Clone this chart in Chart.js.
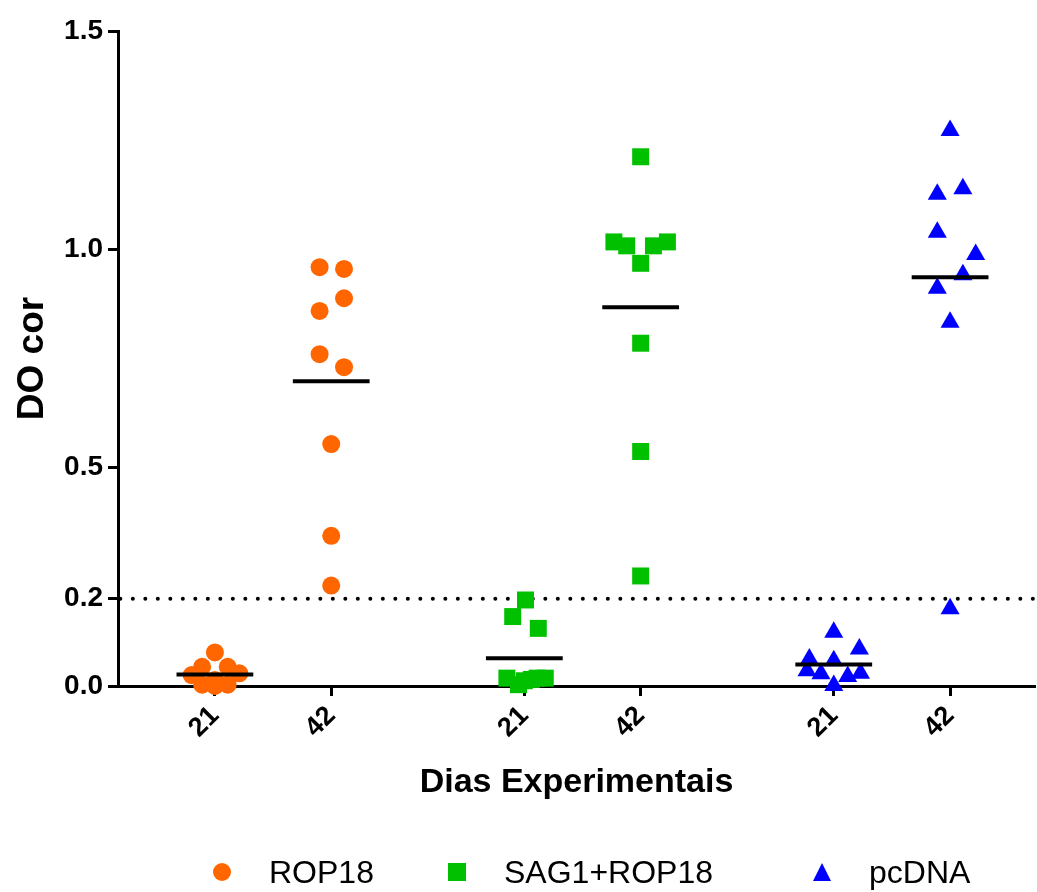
<!DOCTYPE html>
<html>
<head>
<meta charset="utf-8">
<script src="https://cdn.jsdelivr.net/npm/chart.js@4/dist/chart.umd.min.js"></script>
<style>
  body { margin: 0; background: #fff; }
  #wrap { position: relative; width: 1037px; height: 892px; }
  #legend { position: absolute; left: 0; top: 0; width: 1037px; height: 892px; pointer-events: none;
            font: 32px "Liberation Sans", Arial, sans-serif; color: #000; }
  .item { position: absolute; top: 852px; height: 40px; display: flex; align-items: center; white-space: nowrap; }
  .item svg { margin-right: 37px; }
</style>
</head>
<body>
<div id="wrap">
  <canvas id="chart" width="1037" height="892"></canvas>
  <div id="legend"></div>
</div>
<script>
const seriesNames = ['ROP18', 'SAG1+ROP18', 'pcDNA'];
const dayLabels = ['21', '42', '21', '42', '21', '42'];
const yTickValues = [0, 0.2, 0.5, 1.0, 1.5];
const cutoff = 0.2;

// DO cor per animal
const rop18Day21 = [0.077, 0.044, 0.044, 0.025, 0.029, 0.003, 0.0, 0.003, 0.014];
const rop18Day42 = [0.959, 0.955, 0.888, 0.859, 0.760, 0.730, 0.554, 0.344, 0.230];
const sagDay21 = [0.197, 0.159, 0.132, 0.018, 0.003, 0.015, 0.018, 0.018, 0.012];
const sagDay42 = [1.212, 1.017, 1.008, 1.008, 1.017, 0.968, 0.785, 0.537, 0.252];
const pcdnaDay21 = [0.123, 0.085, 0.062, 0.058, 0.035, 0.028, 0.022, 0.029, 0.001];
const pcdnaDay42 = [1.272, 1.139, 1.126, 1.039, 0.988, 0.942, 0.911, 0.833, 0.177];

// sideways scatter of the points inside a column (x units)
const rop18Day21Jitter = [0, -0.11, 0.11, -0.2, 0.21, -0.11, 0, 0.11, 0];
const rop18Day42Jitter = [-0.1, 0.11, 0.11, -0.1, -0.1, 0.11, 0, 0, 0];
const sagDay21Jitter = [0.01, -0.1, 0.12, -0.15, -0.05, 0.06, 0.11, 0.18, 0];
const sagDay42Jitter = [0, -0.23, -0.12, 0.11, 0.23, 0, 0, 0, 0];
const pcdnaDay21Jitter = [0, 0.22, -0.21, 0, -0.23, -0.11, 0.12, 0.23, 0];
const pcdnaDay42Jitter = [0, 0.11, -0.11, -0.11, 0.22, 0.11, -0.11, 0, 0];

// layout
const columnX = [0, 1, 2.66, 3.66, 5.32, 6.32];
const xMin = -0.833, xMax = 7.05;
const meanHalf = 0.33;
const colors = ['#ff6600', '#00c000', '#0000ff'];
const shapes = ['circle', 'rect', 'triangle'];
const radii = [9, 12, 11];

const columns = [
  { series: 0, col: 0, values: rop18Day21, jitter: rop18Day21Jitter },
  { series: 0, col: 1, values: rop18Day42, jitter: rop18Day42Jitter },
  { series: 1, col: 2, values: sagDay21, jitter: sagDay21Jitter },
  { series: 1, col: 3, values: sagDay42, jitter: sagDay42Jitter },
  { series: 2, col: 4, values: pcdnaDay21, jitter: pcdnaDay21Jitter },
  { series: 2, col: 5, values: pcdnaDay42, jitter: pcdnaDay42Jitter }
];

function mean(a) {
  return a.reduce((s, v) => s + v, 0) / a.length;
}

const datasets = [];
columns.forEach(c => {
  const m = mean(c.values);
  datasets.push({
    type: 'line',
    data: [{ x: columnX[c.col] - meanHalf, y: m }, { x: columnX[c.col] + meanHalf, y: m }],
    borderColor: '#000', borderWidth: 4, pointRadius: 0, order: 0, clip: false
  });
});
seriesNames.forEach((name, s) => {
  const pts = [];
  columns.filter(c => c.series === s).forEach(c => {
    c.values.forEach((v, i) => pts.push({ x: columnX[c.col] + c.jitter[i], y: v }));
  });
  datasets.push({
    type: 'scatter', label: name, data: pts,
    pointStyle: shapes[s], pointRadius: radii[s],
    backgroundColor: colors[s], borderColor: colors[s], borderWidth: 0,
    order: 1, clip: false
  });
});
datasets.push({
  type: 'line',
  data: [{ x: xMin + 0.02, y: cutoff }, { x: xMax, y: cutoff }],
  borderColor: '#000', borderWidth: 4, borderDash: [0, 12.5], borderCapStyle: 'round',
  pointRadius: 0, order: 2, clip: false
});

Chart.defaults.font.family = '"Liberation Sans", Arial, sans-serif';
Chart.defaults.color = '#000';

new Chart(document.getElementById('chart'), {
  type: 'scatter',
  data: { datasets: datasets },
  options: {
    responsive: false,
    animation: false,
    events: [],
    layout: { autoPadding: false, padding: { top: 31, right: 2, bottom: 72, left: 0 } },
    plugins: { legend: { display: false }, tooltip: { enabled: false } },
    scales: {
      x: {
        type: 'linear', min: xMin, max: xMax,
        afterBuildTicks: s => { s.ticks = columnX.map(v => ({ value: v })); },
        afterFit: s => { s.height = 134; s.paddingLeft = 0; s.paddingRight = 0; },
        ticks: {
          callback: (v, i) => dayLabels[i],
          autoSkip: false, minRotation: 45, maxRotation: 45, padding: 4,
          font: { size: 27, weight: 'bold' }, color: '#000'
        },
        grid: { drawOnChartArea: false, drawTicks: true, tickLength: 10, tickWidth: 3, tickColor: '#000' },
        border: { display: true, color: '#000', width: 3 },
        title: {
          display: true, text: 'Dias Experimentais', color: '#000',
          font: { size: 34, weight: 'bold' }, padding: { top: 0, bottom: 17 }
        }
      },
      y: {
        type: 'linear', min: 0, max: 1.5,
        afterBuildTicks: s => { s.ticks = yTickValues.map(v => ({ value: v })); },
        afterFit: s => { s.width = 118; },
        ticks: {
          callback: v => v.toFixed(1), padding: 5,
          font: { size: 28, weight: 'bold' }, color: '#000'
        },
        grid: { drawOnChartArea: false, drawTicks: true, tickLength: 10, tickWidth: 3, tickColor: '#000' },
        border: { display: true, color: '#000', width: 3 },
        title: {
          display: true, text: 'DO cor', color: '#000',
          font: { size: 37, weight: 'bold' }, padding: { top: 11, bottom: 0 }
        }
      }
    }
  }
});

// legend below the plot
const legendCenters = [222, 457, 822];
const markerSvg = [
  c => `<circle cx="10" cy="10" r="9" fill="${c}"/>`,
  c => `<rect x="1" y="1" width="18" height="18" fill="${c}"/>`,
  c => `<polygon points="10,1 19,19 1,19" fill="${c}"/>`
];
const legendEl = document.getElementById('legend');
seriesNames.forEach((name, s) => {
  const item = document.createElement('div');
  item.className = 'item';
  item.style.left = (legendCenters[s] - 10) + 'px';
  item.innerHTML = `<svg width="20" height="20" viewBox="0 0 20 20">${markerSvg[s](colors[s])}</svg><span>${name}</span>`;
  legendEl.appendChild(item);
});
</script>
</body>
</html>
